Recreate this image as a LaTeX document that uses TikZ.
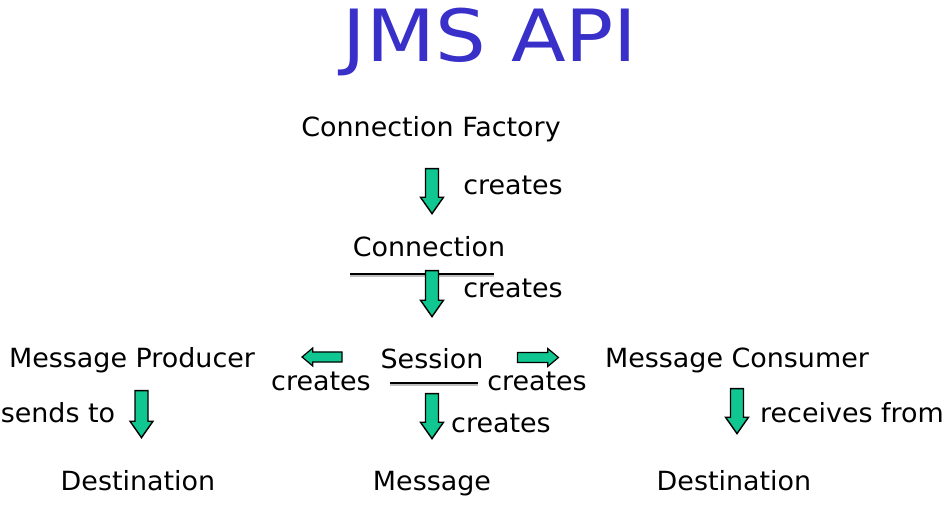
\documentclass[tikz,border=0pt]{standalone}
\usepackage{fontspec}
\setmainfont{DejaVu Sans}
\usetikzlibrary{shapes.arrows}
\definecolor{titleblue}{RGB}{56,48,200}
\definecolor{arrowgreen}{RGB}{16,198,145}
\newfontfamily\lblfont[FakeStretch=1.02]{DejaVu Sans}
\newfontfamily\titlefont[FakeStretch=1.11]{DejaVu Sans}
\tikzset{
  lbl/.style={anchor=base, inner sep=0pt, font=\lblfont\fontsize{26.4}{30}\selectfont},
  bigarrow/.style={single arrow, draw=black, fill=arrowgreen, line width=1.4pt,
    inner sep=5.8pt, single arrow head extend=5pt, single arrow tip angle=70,
    single arrow head indent=0pt, minimum height=#1},
  smallarrow/.style={single arrow, draw=black, fill=arrowgreen, line width=1.2pt,
    inner sep=4.4pt, single arrow head extend=4pt, single arrow tip angle=80,
    single arrow head indent=0pt, minimum height=#1},
  uline/.style={line width=1.4pt, black},
  ushadow/.style={line width=2.5pt, black!25},
}
\begin{document}
\begin{tikzpicture}[x=1pt,y=-1pt]
\useasboundingbox (0,0) rectangle (946,505);
% title
\node[anchor=base, inner sep=0pt, text=titleblue, font=\titlefont\fontsize{72}{80}\selectfont] (title) at (490,62) {JMS API};
% texts
\node[lbl] (cf) at (431,137) {Connection Factory};
\node[lbl] (c1) at (513,195) {creates};
\node[lbl] (conn) at (429,257) {Connection};
\node[lbl] (c2) at (513,298) {creates};
\node[lbl] (sess) at (432,369) {Session};
\node[lbl] (c3) at (321,390) {creates};
\node[lbl] (c4) at (537,390) {creates};
\node[lbl] (c5) at (501,432) {creates};
\node[lbl] (prod) at (132,367) {Message Producer};
\node[lbl] (cons) at (737,367) {Message Consumer};
\node[lbl] (send) at (58,422) {sends to};
\node[lbl] (recv) at (852,422) {receives from};
\node[lbl] (dest1) at (138,490) {Destination};
\node[lbl] (msg) at (432,490) {Message};
\node[lbl] (dest2) at (734,490) {Destination};
% underlines
\coordinate (u1a) at (350,276);
\coordinate (u1b) at (494,276);
\coordinate (u2a) at (390,385);
\coordinate (u2b) at (478,385);
\draw[ushadow] (u1a) -- (u1b);
\draw[uline] ([yshift=2pt]u1a) -- ([yshift=2pt]u1b);
\draw[ushadow] (u2a) -- (u2b);
\draw[uline] ([yshift=2pt]u2a) -- ([yshift=2pt]u2b);
% arrows
\node[bigarrow=45pt, rotate=-90] (a1) at (432,186.5) {};
\node[bigarrow=46pt, rotate=-90] (a2) at (432,289) {};
\node[bigarrow=45pt, rotate=-90] (a3) at (432,411.5) {};
\node[bigarrow=47pt, rotate=-90] (a4) at (141.5,409.5) {};
\node[bigarrow=45pt, rotate=-90] (a5) at (737,406.5) {};
\node[smallarrow=40pt, rotate=180] (a6) at (325,357) {};
\node[smallarrow=41pt] (a7) at (535,357.5) {};
\end{tikzpicture}
\end{document}
